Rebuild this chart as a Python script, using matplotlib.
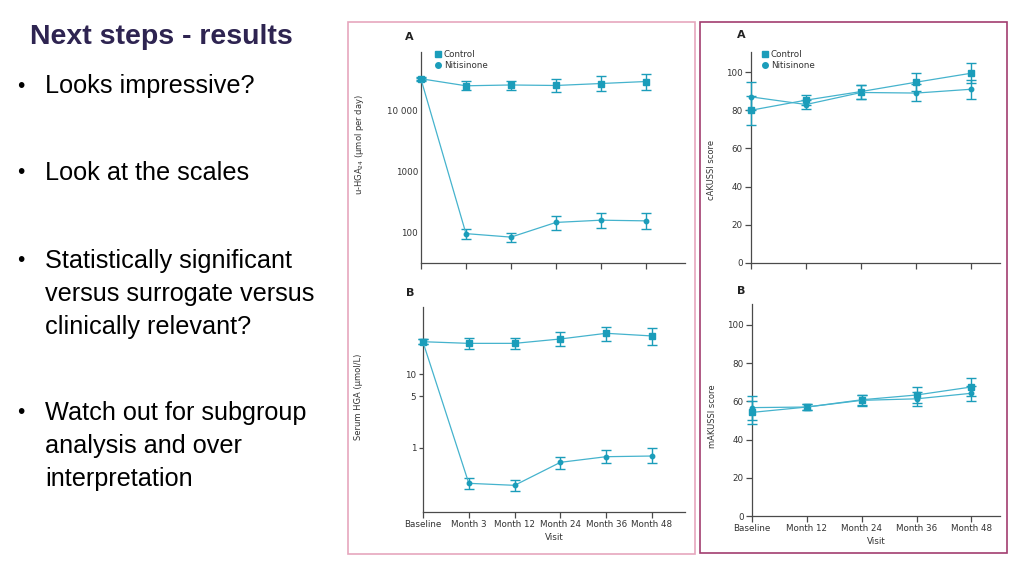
import numpy as np
import matplotlib
matplotlib.use("Agg")
import matplotlib.pyplot as plt
from matplotlib.lines import Line2D
from matplotlib.patches import Rectangle

# visits
visits_hga = ["Baseline", "Month 3", "Month 12", "Month 24", "Month 36", "Month 48"]
visits_score = ["Baseline", "Month 12", "Month 24", "Month 36", "Month 48"]

# u-HGA24 (umol per day), log scale
uhga_ctrl = [33500, 25700, 26500, 26000, 28000, 30200]
uhga_ctrl_lo = [31500, 22200, 22200, 20000, 21300, 22100]
uhga_ctrl_hi = [35500, 31000, 31000, 33500, 36500, 40400]
uhga_niti = [33000, 97, 85, 148, 161, 157]
uhga_niti_lo = [31000, 80, 71, 112, 119, 117]
uhga_niti_hi = [35000, 117, 101, 190, 210, 210]

# serum HGA (umol/L), log scale
serum_ctrl = [27.8, 26.4, 26.4, 30.3, 36.2, 33.3]
serum_ctrl_lo = [25.5, 21.9, 21.9, 24.5, 28.7, 25.1]
serum_ctrl_hi = [30.5, 31.5, 31.5, 37.7, 44.5, 42.3]
serum_niti = [27.5, 0.327, 0.307, 0.632, 0.754, 0.77]
serum_niti_lo = [25.5, 0.271, 0.257, 0.508, 0.613, 0.613]
serum_niti_hi = [30.0, 0.383, 0.363, 0.754, 0.922, 0.99]

# cAKUSSI score
cak_ctrl = [80, 85.3, 89.8, 94.7, 99.4]
cak_ctrl_lo = [72.5, 83, 86, 90, 94.4]
cak_ctrl_hi = [87.5, 88, 93.2, 99.4, 104.7]
cak_niti = [87, 83, 89.3, 89, 91]
cak_niti_lo = [80, 80.5, 85.8, 84.6, 86]
cak_niti_hi = [95, 85.5, 93, 93.5, 96]

# mAKUSSI score
mak_ctrl = [54.2, 57, 60.8, 63.3, 67.5]
mak_ctrl_lo = [48, 55.5, 58, 59, 63]
mak_ctrl_hi = [60, 58.5, 63.5, 67.5, 72]
mak_niti = [56.7, 57, 60.5, 61.3, 64.2]
mak_niti_lo = [50, 55.5, 57.5, 57.5, 60]
mak_niti_hi = [63, 58.5, 63.5, 65, 68]

bullets = [
    ["Looks impressive?"],
    ["Look at the scales"],
    ["Statistically significant", "versus surrogate versus", "clinically relevant?"],
    ["Watch out for subgroup", "analysis and over", "interpretation"],
]
bullet_y = [86, 173, 261, 413]

W, H = 1024, 576
line_col = "#45b3cd"
mark_col = "#1b9dba"
axis_col = "#4a4a4a"
txt_col = "#333333"

fig = plt.figure(figsize=(W / 100, H / 100), dpi=100)
fig.patch.set_facecolor("white")


def px_axes(x0, y0, x1, y1):
    return fig.add_axes([x0 / W, 1 - y1 / H, (x1 - x0) / W, (y1 - y0) / H])


def draw_series(ax, vals, lo, hi, marker, ms):
    x = np.arange(len(vals))
    v = np.array(vals)
    err = [v - np.array(lo), np.array(hi) - v]
    cont = ax.errorbar(x, v, yerr=err, color=line_col, lw=0.9, marker=marker, ms=ms,
                       mfc=mark_col, mec=mark_col, ecolor=mark_col, elinewidth=1.0,
                       capsize=3.5, capthick=1.0, zorder=3)
    for art in cont.get_children():
        art.set_clip_on(False)


def style(ax, labels, show_xlabels, ylabel, lab_pos, ytick_len):
    for s in ["top", "right"]:
        ax.spines[s].set_visible(False)
    for s in ["left", "bottom"]:
        ax.spines[s].set_color(axis_col)
        ax.spines[s].set_linewidth(0.9)
    ax.set_xticks(np.arange(len(labels)))
    if show_xlabels:
        ax.set_xticklabels(labels, fontsize=6.3, color=txt_col)
        ax.set_xlabel("Visit", fontsize=6.3, color=txt_col, labelpad=3)
    else:
        ax.set_xticklabels([])
    ax.tick_params(axis="x", length=4, width=0.9, color=axis_col, pad=2)
    ax.tick_params(axis="y", length=ytick_len, width=0.9, color=axis_col,
                   labelsize=6.3, labelcolor=txt_col, pad=2)
    ax.set_ylabel(ylabel, fontsize=6, color=txt_col)
    ax.yaxis.set_label_coords(*lab_pos)


def add_legend(ax, anchor):
    handles = [
        Line2D([], [], ls="none", marker="s", ms=4, mfc=mark_col, mec=mark_col, label="Control"),
        Line2D([], [], ls="none", marker="o", ms=4, mfc=mark_col, mec=mark_col, label="Nitisinone"),
    ]
    leg = ax.legend(handles=handles, loc="upper left", bbox_to_anchor=anchor, frameon=False,
                    fontsize=6.3, handlelength=0.6, handletextpad=0.4, labelspacing=0.25,
                    borderpad=0.2)
    for t in leg.get_texts():
        t.set_color(txt_col)


# top-left: u-HGA24
ax1 = px_axes(421, 52, 685, 263)
draw_series(ax1, uhga_ctrl, uhga_ctrl_lo, uhga_ctrl_hi, "s", 3.8)
draw_series(ax1, uhga_niti, uhga_niti_lo, uhga_niti_hi, "o", 3.2)
ax1.set_yscale("log")
ax1.set_ylim(32, 92000)
ax1.set_xlim(0, 5.87)
ax1.set_yticks([100, 1000, 10000])
ax1.set_yticklabels(["100", "1000", "10 000"])
ax1.minorticks_off()
style(ax1, visits_hga, False, "u-HGA$_{24}$ (μmol per day)", (-0.21, 0.56), 0)
add_legend(ax1, (0.03, 1.04))

# bottom-left: serum HGA
ax2 = px_axes(423, 307, 685, 512)
draw_series(ax2, serum_ctrl, serum_ctrl_lo, serum_ctrl_hi, "s", 3.8)
draw_series(ax2, serum_niti, serum_niti_lo, serum_niti_hi, "o", 3.2)
ax2.set_yscale("log")
ax2.set_ylim(0.133, 82.6)
ax2.set_xlim(0, 5.72)
ax2.set_yticks([1, 5, 10])
ax2.set_yticklabels(["1", "5", "10"])
ax2.minorticks_off()
style(ax2, visits_hga, True, "Serum HGA (μmol/L)", (-0.23, 0.56), 3)

# top-right: cAKUSSI
ax3 = px_axes(751, 52, 1000, 263)
draw_series(ax3, cak_ctrl, cak_ctrl_lo, cak_ctrl_hi, "s", 3.8)
draw_series(ax3, cak_niti, cak_niti_lo, cak_niti_hi, "o", 3.2)
ax3.set_ylim(0, 110.5)
ax3.set_xlim(0, 4.52)
ax3.set_yticks([0, 20, 40, 60, 80, 100])
style(ax3, visits_score, False, "cAKUSSI score", (-0.14, 0.44), 4)
add_legend(ax3, (0.02, 1.04))

# bottom-right: mAKUSSI
ax4 = px_axes(752, 304, 1000, 516)
draw_series(ax4, mak_ctrl, mak_ctrl_lo, mak_ctrl_hi, "s", 3.8)
draw_series(ax4, mak_niti, mak_niti_lo, mak_niti_hi, "o", 3.2)
ax4.set_ylim(0, 110.9)
ax4.set_xlim(0, 4.52)
ax4.set_yticks([0, 20, 40, 60, 80, 100])
style(ax4, visits_score, True, "mAKUSSI score", (-0.14, 0.47), 4)

# panel letters
for (px, py, s) in [(409, 37, "A"), (410, 293, "B"), (741, 35, "A"), (741, 291, "B")]:
    fig.text(px / W, 1 - py / H, s, fontsize=8, fontweight="bold", color="#222222",
             ha="center", va="center")

# panel frames
fig.patches.append(Rectangle((348 / W, 1 - 554 / H), (695 - 348) / W, (554 - 21.7) / H,
                             fill=False, ec="#e6a7bd", lw=1.2, transform=fig.transFigure))
fig.patches.append(Rectangle((700 / W, 1 - 553 / H), (1007 - 700) / W, (553 - 21.7) / H,
                             fill=False, ec="#a23d70", lw=1.2, transform=fig.transFigure))

# slide text
fig.text(30 / W, 1 - 37 / H, "Next steps - results", fontsize=20.5, fontweight="bold",
         color="#2e2451", family="Liberation Sans", va="center", ha="left")
for lines, y in zip(bullets, bullet_y):
    fig.text(21 / W, 1 - y / H, "•", fontsize=15, color="black", family="Liberation Sans",
             va="center", ha="center")
    for i, ln in enumerate(lines):
        fig.text(45 / W, 1 - (y + 33 * i) / H, ln, fontsize=18.2, color="black",
                 family="Liberation Sans", va="center", ha="left")

fig.savefig("out.png", dpi=100)
